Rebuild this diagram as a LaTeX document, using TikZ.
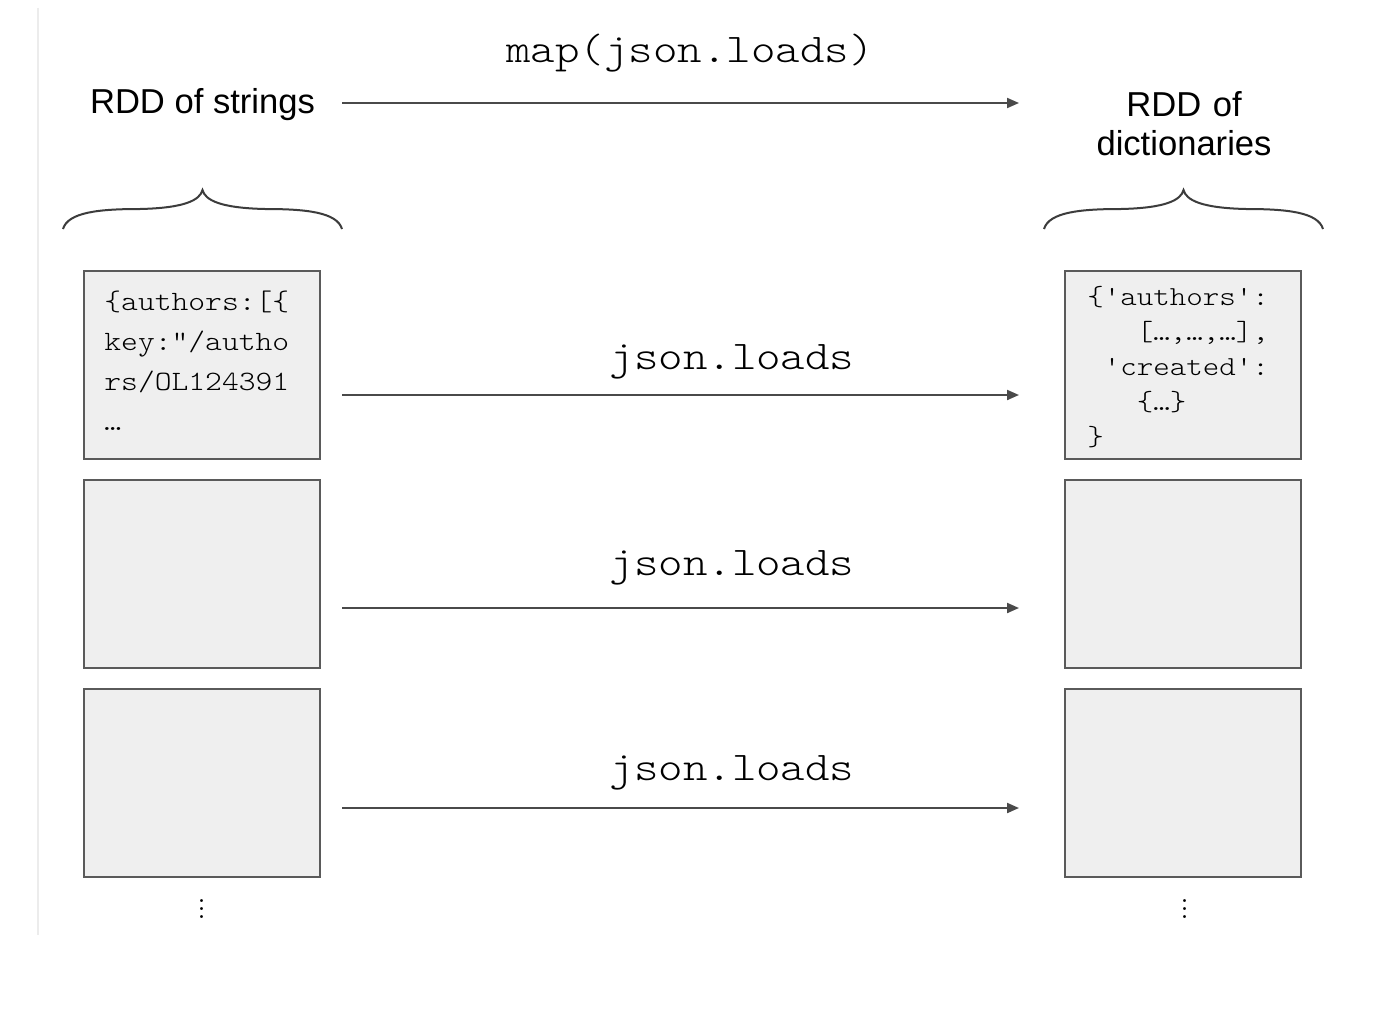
\documentclass[tikz,border=0pt]{standalone}
\usepackage{fontspec}
\setsansfont{Liberation Sans}
\setmonofont{lmmonolt10-regular.otf}[FakeStretch=1.143]
\usetikzlibrary{arrows.meta}
\definecolor{boxfill}{HTML}{EFEFEF}
\definecolor{boxline}{HTML}{5A5A5A}
\definecolor{arr}{HTML}{4A4A4A}
\definecolor{bracec}{HTML}{3C3C3C}
\definecolor{edgec}{HTML}{ECECEC}
\begin{document}
\begin{tikzpicture}[x=0.5pt,y=-0.5pt,
  part/.style={draw=boxline,line width=1pt,fill=boxfill,minimum width=118pt,minimum height=94pt,inner sep=0pt,outer sep=0pt},
  conn/.style={draw=arr,line width=1pt,-{Triangle[length=6pt,width=5pt]}},
  biglabel/.style={font=\ttfamily\fontsize{20.4}{24}\selectfont,anchor=base,inner sep=0pt},
  titlelab/.style={font=\sffamily\fontsize{17.3}{20}\selectfont,anchor=base,inner sep=0pt},
  titlewrap/.style={titlelab,text width=110pt,align=center},
  codetext/.style={anchor=base west,inner sep=0pt,text width=112pt,align=left},
  bracepath/.style={draw=bracec,line width=1pt},
  moredots/.style={anchor=base,inner sep=0pt,font=\fontsize{18}{20}\selectfont}]
\useasboundingbox (0,0) rectangle (1400,1022);
\fill[white] (0,0) rectangle (1400,1022);
\draw[edgec,line width=0.75pt] (38,8) -- (38,935);

% titles
\node[titlelab] (lt) at (202.5,113) {RDD of strings};
\node[titlewrap] (rt) at (1184,116) {RDD of\\dictionaries};
\node[biglabel] (mapl) at (690,63) {map(json.loads)};
\coordinate (ts) at (342,103);
\coordinate (te) at (1019,103);
\draw[conn] (ts) -- (te);

% braces
\draw[bracepath] (63,229) .. controls (68,212) and (100,209) .. (140,209)
  .. controls (185,208) and (200,200) .. (202.5,190)
  .. controls (205,200) and (220,208) .. (265,209)
  .. controls (305,209) and (337,212) .. (342,229);
\begin{scope}[shift={(981,0)}]
\draw[bracepath] (63,229) .. controls (68,212) and (100,209) .. (140,209)
  .. controls (185,208) and (200,200) .. (202.5,190)
  .. controls (205,200) and (220,208) .. (265,209)
  .. controls (305,209) and (337,212) .. (342,229);
\end{scope}

% boxes
\node[part] (L1) at (202,365) {};
\node[part] (L2) at (202,573.5) {};
\node[part] (L3) at (202,783) {};
\node[part] (R1) at (1183,365) {};
\node[part] (R2) at (1183,573.5) {};
\node[part] (R3) at (1183,783) {};

% box contents
\node[codetext,font=\ttfamily\fontsize{14}{20}\selectfont] (lcode) at (104,310)
  {\{authors:[\{\\key:"/autho\\rs/OL124391\\…};
\node[codetext,font=\ttfamily\fontsize{13.75}{17.5}\selectfont] (rcode) at (1087,305)
  {\{'authors':\\\hphantom{xxx}[…,…,…],\\\hphantom{x}'created':\\\hphantom{xxx}\{…\}\\\}};

% arrows
\draw[conn] ([shift={(22,30)}]L1.east) -- ([shift={(-46,30)}]R1.west);
\draw[conn] ([shift={(22,34.5)}]L2.east) -- ([shift={(-46,34.5)}]R2.west);
\draw[conn] ([shift={(22,25)}]L3.east) -- ([shift={(-46,25)}]R3.west);
\node[biglabel] (j1) at (732,369) {json.loads};
\node[biglabel] (j2) at (732,575) {json.loads};
\node[biglabel] (j3) at (732,780) {json.loads};

% continuation dots
\node[moredots] (ld) at (202,918) {$\vdots$};
\node[moredots] (rd) at (1185,918) {$\vdots$};
\end{tikzpicture}
\end{document}
